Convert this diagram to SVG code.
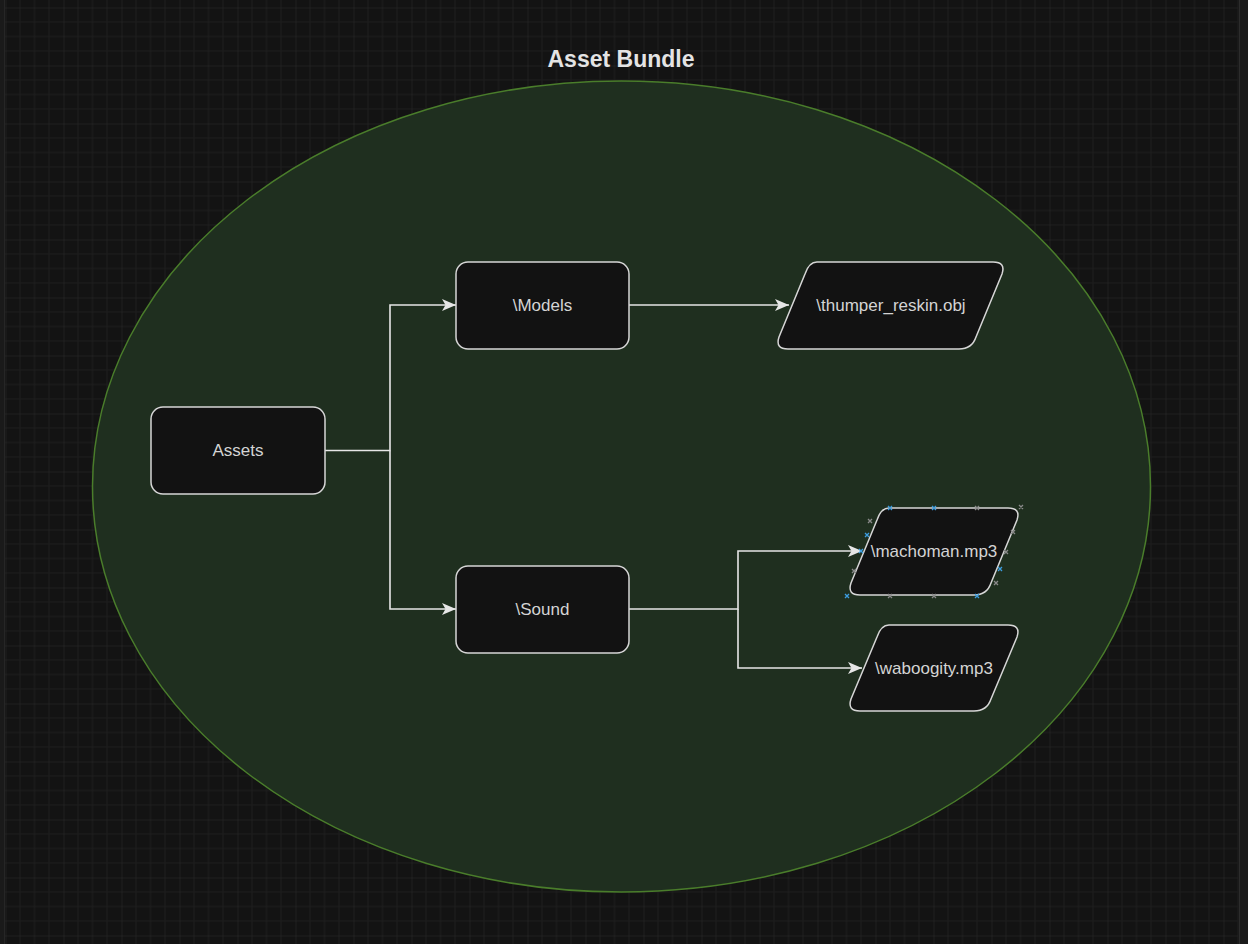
<svg xmlns="http://www.w3.org/2000/svg" width="1248" height="944" viewBox="0 0 1248 944">
  <defs>
    <pattern id="grid" patternUnits="userSpaceOnUse" x="5.5" y="7.5" width="58" height="58">
      <rect width="58" height="58" fill="#131313"/>
      <path d="M14.5 0V58M29 0V58M43.5 0V58M0 14.5H58M0 29H58M0 43.5H58" stroke="#1e1e1e" stroke-width="1" fill="none"/>
      <path d="M0 0V58M0 0H58" stroke="#2a2a2a" stroke-width="1" fill="none"/>
    </pattern>
    <marker id="arr" viewBox="0 0 14 12" refX="14" refY="6" markerWidth="14" markerHeight="13" markerUnits="userSpaceOnUse" orient="auto">
      <path d="M0 0L14 6L0 12L3.5 6Z" fill="#e6e6e6"/>
    </marker>
  </defs>
  <style>
    .node{fill:#121212;stroke:#d6d6d6;stroke-width:1.5}
    .lbl{font-family:"Liberation Sans",Arial,sans-serif;font-size:17px;fill:#d4d4d4;text-anchor:middle;dominant-baseline:central}
    .edge{fill:none;stroke:#e6e6e6;stroke-width:1.6}
    .hb{stroke:#3d9ee0;stroke-width:1.3}
    .hg{stroke:#8a8a8a;stroke-width:1.3}
  </style>
  <rect width="1248" height="944" fill="#131313"/>
  <rect x="5" y="0" width="1233" height="944" fill="url(#grid)"/>
  <rect x="0" y="0" width="5" height="944" fill="#1a1a1a"/>
  <line x1="4.5" y1="0" x2="4.5" y2="944" stroke="#262626"/>
  <rect x="1238" y="0" width="10" height="944" fill="#1a1a1a"/>
  <line x1="1239.5" y1="0" x2="1239.5" y2="944" stroke="#2c2c2c"/>

  <g id="bundle">
    <ellipse cx="621.5" cy="486.5" rx="529" ry="405.5" fill="#1f2f1f" stroke="#4a7d2b" stroke-width="1.5"/>
    <text x="621" y="59" font-family="'Liberation Sans',Arial,sans-serif" font-size="23px" font-weight="bold" fill="#e4e4e4" text-anchor="middle" dominant-baseline="central">Asset Bundle</text>
  </g>

  <g id="connectors">
    <path class="edge" d="M325 450.5H390V305H456" marker-end="url(#arr)"/>
    <path class="edge" d="M390 450.5V609H456" marker-end="url(#arr)"/>
    <path class="edge" d="M629 305H789" marker-end="url(#arr)"/>
    <path class="edge" d="M629 609H738V551H862" marker-end="url(#arr)"/>
    <path class="edge" d="M738 609V668H862" marker-end="url(#arr)"/>
  </g>

  <g id="assets">
    <rect class="node" x="151" y="407" width="174" height="87" rx="12"/>
    <text class="lbl" x="238" y="450.5">Assets</text>
  </g>
  <g id="models">
    <rect class="node" x="456" y="262" width="173" height="87" rx="12"/>
    <text class="lbl" x="542.5" y="305">\Models</text>
  </g>
  <g id="sound">
    <rect class="node" x="456" y="566" width="173" height="87" rx="12"/>
    <text class="lbl" x="542.5" y="609">\Sound</text>
  </g>
  <g id="thumper">
    <path class="node" d="M817 262H993Q1006 262 1002 274L976 337Q972 349 959 349H788Q775 349 779 337L805 274Q809 262 817 262Z"/>
    <text class="lbl" x="891" y="305">\thumper_reskin.obj</text>
  </g>
  <g id="machoman">
    <path class="node" d="M889 508H1008Q1021 508 1017 520L991 583Q987 595 974 595H860Q847 595 851 583L877 520Q881 508 889 508Z"/>
    <text class="lbl" x="934" y="551">\machoman.mp3</text>
    <g id="handles">
      <path class="hb" d="M888 506l4 4m0-4l-4 4M932 506l4 4m0-4l-4 4M865 533l4 4m0-4l-4 4M859 549l4 4m0-4l-4 4M998 567l4 4m0-4l-4 4M975 594l4 4m0-4l-4 4M845 594l4 4m0-4l-4 4"/>
      <path class="hg" d="M975 506l4 4m0-4l-4 4M1019 505l4 4m0-4l-4 4M1011 530l4 4m0-4l-4 4M1004 550l4 4m0-4l-4 4M994 581l4 4m0-4l-4 4M888 594l4 4m0-4l-4 4M932 594l4 4m0-4l-4 4M868 519l4 4m0-4l-4 4M852 569l4 4m0-4l-4 4"/>
    </g>
  </g>
  <g id="waboogity">
    <path class="node" d="M889 625H1008Q1021 625 1017 637L991 699Q987 711 974 711H860Q847 711 851 699L877 637Q881 625 889 625Z"/>
    <text class="lbl" x="934" y="668">\waboogity.mp3</text>
  </g>
</svg>
